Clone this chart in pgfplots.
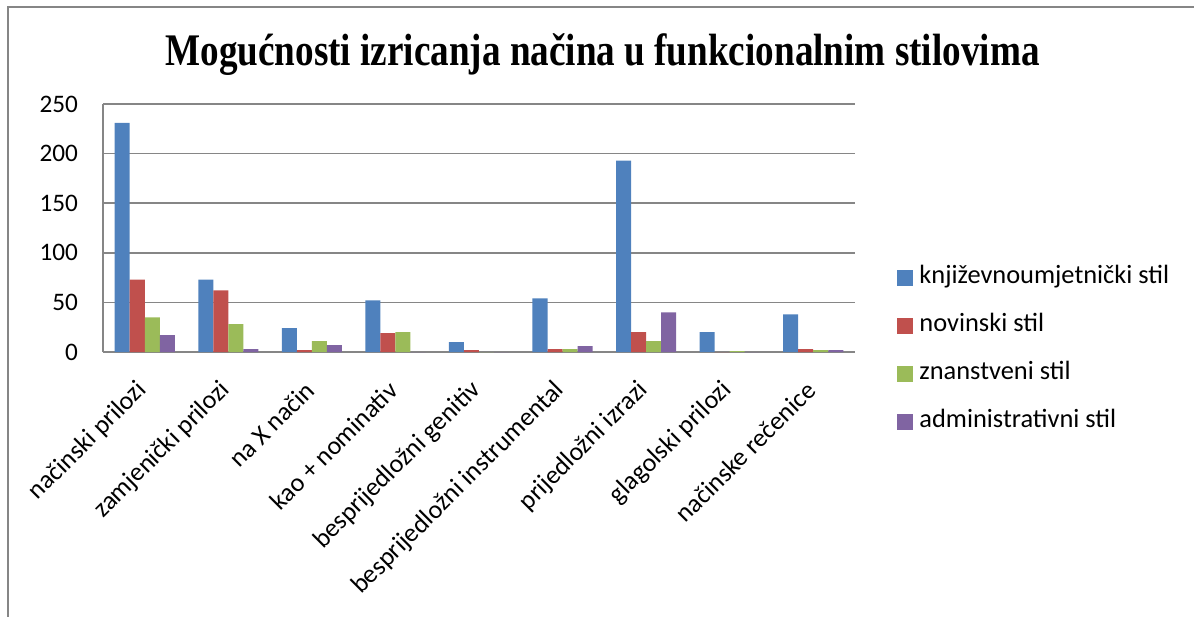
\documentclass[border=0pt]{standalone}
\usepackage{fontspec}
\setmainfont{Carlito}
\newfontfamily\titlefont{Liberation Serif}
\usepackage{pgfplots}
\pgfplotsset{compat=1.18}
\usepackage{pgfplotstable}
\definecolor{cblue}{HTML}{4F81BD}
\definecolor{cred}{HTML}{C0504D}
\definecolor{cgreen}{HTML}{9BBB59}
\definecolor{cpurple}{HTML}{8064A2}
\definecolor{gridgray}{HTML}{868686}
\pgfplotstableread{
x blue red green purple
0 231 73 35 17
1 73 62 28 3
2 24 2 11 7
3 52 19 20 0
4 10 2 0 0
5 54 3 3 6
6 193 20 11 40
7 20 0 1 0
8 38 3 2 2
}\data
\begin{document}
\begin{tikzpicture}[x=1pt,y=1pt]
\path[use as bounding box] (0,0) rectangle (597,308);
\draw[gridgray, line width=1pt] (3.75,-2) -- (3.75,304.25) -- (600,304.25);
\node[anchor=base, inner sep=0pt] at (301.25,275) {\scalebox{0.822}[1]{\titlefont\bfseries\fontsize{22.6}{26}\selectfont Mogućnosti izricanja načina u funkcionalnim stilovima}};
\begin{axis}[
  at={(51.5pt,132pt)}, anchor=south west,
  scale only axis, width=376pt, height=124pt,
  xmin=-0.5, xmax=8.5, ymin=0, ymax=250,
  ytick={0,50,100,150,200,250},
  xtick=data,
  xticklabels={načinski prilozi, zamjenički prilozi, na X način, kao + nominativ, besprijedložni genitiv, besprijedložni instrumental, prijedložni izrazi, glagolski prilozi, načinske rečenice},
  axis x line=bottom, axis y line=left,
  axis line style={-, gridgray, line width=0.9pt},
  major tick length=0pt,
  ymajorgrids, grid style={gridgray, line width=0.75pt},
  /pgf/number format/assume math mode=true,
  yticklabel style={font=\fontsize{12.6}{14}\selectfont, xshift=-9pt},
  xticklabel style={font=\fontsize{13}{15}\selectfont, yshift=-14.6pt, xshift=1.4pt, rotate=45, anchor=east},
  ybar=0pt, bar width=0.18,
  every axis plot/.append style={draw=none},
  legend cell align=left,
  legend image code/.code={\fill[#1] (0pt,-4pt) rectangle (8pt,4pt);},
  legend style={at={(1.0559,0.01)}, anchor=west, draw=none, fill=none, inner sep=0pt,
    font=\fontsize{13.2}{15}\selectfont,
    nodes={inner sep=0pt, text height=9pt, text depth=3pt},
    row sep=12pt, column sep=3pt},
]
\addplot[fill=cblue] table[x=x, y=blue] {\data};
\addplot[fill=cred] table[x=x, y=red] {\data};
\addplot[fill=cgreen] table[x=x, y=green] {\data};
\addplot[fill=cpurple] table[x=x, y=purple] {\data};
\legend{književnoumjetnički stil, novinski stil, znanstveni stil, administrativni stil}
\end{axis}
\end{tikzpicture}
\end{document}
